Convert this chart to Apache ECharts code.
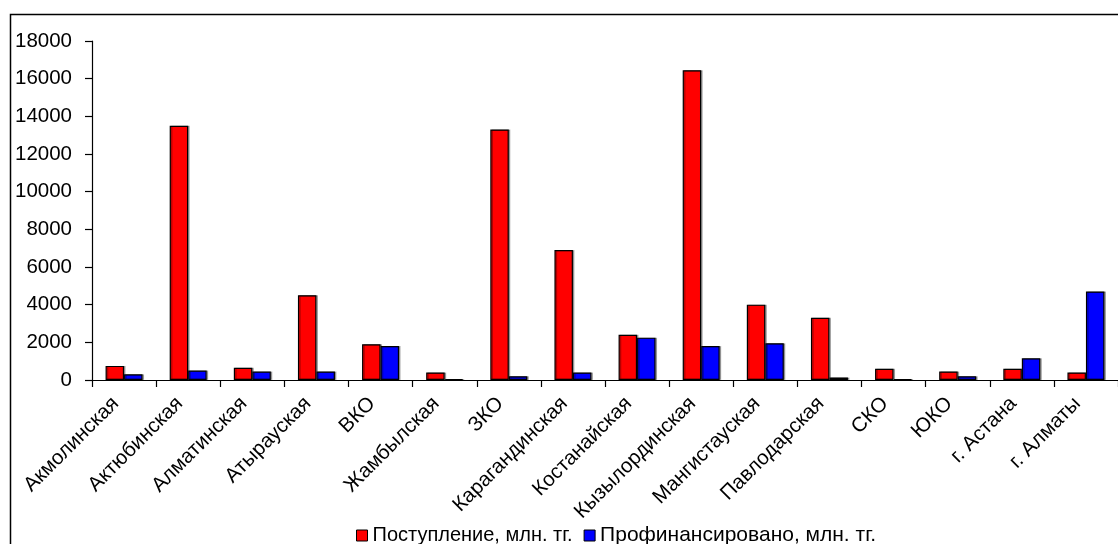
<!DOCTYPE html>
<html>
<head>
<meta charset="utf-8">
<script src="https://cdn.jsdelivr.net/npm/echarts@6/dist/echarts.min.js"></script>
<style>
html,body{margin:0;padding:0;background:#fff;}
#chart{width:1118px;height:544px;}
</style>
</head>
<body>
<div id="chart"></div>
<script>
const categories = ['Акмолинская','Актюбинская','Алматинская','Атырауская','ВКО','Жамбылская','ЗКО','Карагандинская','Костанайская','Кызылординская','Мангистауская','Павлодарская','СКО','ЮКО','г. Астана','г. Алматы'];
const received = [750, 13500, 650, 4500, 1900, 400, 13300, 6900, 2400, 16450, 4000, 3300, 600, 450, 600, 400];
const financed = [300, 500, 450, 450, 1800, 50, 200, 400, 2250, 1800, 1950, 130, 50, 200, 1150, 4700];
const seriesNames = ['Поступление, млн. тг.', 'Профинансировано, млн. тг.'];

const font = 'Liberation Sans, Arial, sans-serif';
const chart = echarts.init(document.getElementById('chart'));
const barStyle = (c) => ({
  color: c, borderColor: '#000', borderWidth: 1.2,
  shadowColor: 'rgba(0,0,0,0.3)', shadowOffsetX: 1.5, shadowOffsetY: 0, shadowBlur: 0
});
chart.setOption({
  animation: false,
  backgroundColor: '#fff',
  graphic: [{
    type: 'rect', left: 8, top: 12, z: -1,
    shape: { width: 1200, height: 700 },
    style: { fill: 'none', stroke: '#000', lineWidth: 1.5 }
  }],
  grid: { left: 92, right: -1, top: 41, bottom: 164, containLabel: false },
  legend: {
    left: 351, top: 520,
    itemWidth: 11, itemHeight: 11, itemGap: 11,
    icon: 'rect',
    textStyle: { fontFamily: font, fontSize: 20, color: '#000' },
    data: seriesNames.map((n, i) => ({
      name: n,
      itemStyle: { color: i ? '#0000ff' : '#ff0000', borderColor: '#000', borderWidth: 1 },
      textStyle: { fontSize: i ? 21 : 20 }
    }))
  },
  xAxis: {
    type: 'category', data: categories,
    axisLine: { lineStyle: { color: '#000', width: 1.2 } },
    axisTick: { show: true, length: 7, alignWithLabel: false, lineStyle: { color: '#000', width: 1.2 } },
    axisLabel: { rotate: 45, interval: 0, fontFamily: font, fontSize: 20.5, color: '#000', margin: 12, padding: [0, 12, 0, 0] }
  },
  yAxis: {
    type: 'value', min: 0, max: 18000, interval: 2000,
    axisLine: { show: true, lineStyle: { color: '#000', width: 1.2 } },
    axisTick: { show: true, length: 7, inside: false, lineStyle: { color: '#000', width: 1.2 } },
    splitLine: { show: false },
    axisLabel: { fontFamily: font, fontSize: 20.5, color: '#000', margin: 20, formatter: (v) => String(v) }
  },
  series: [
    { name: seriesNames[0], type: 'bar', data: received, barWidth: 18.5, barGap: '0%', itemStyle: barStyle('#ff0000') },
    { name: seriesNames[1], type: 'bar', data: financed, barWidth: 18.5, barGap: '0%', itemStyle: barStyle('#0000ff') }
  ]
});
</script>
</body>
</html>
